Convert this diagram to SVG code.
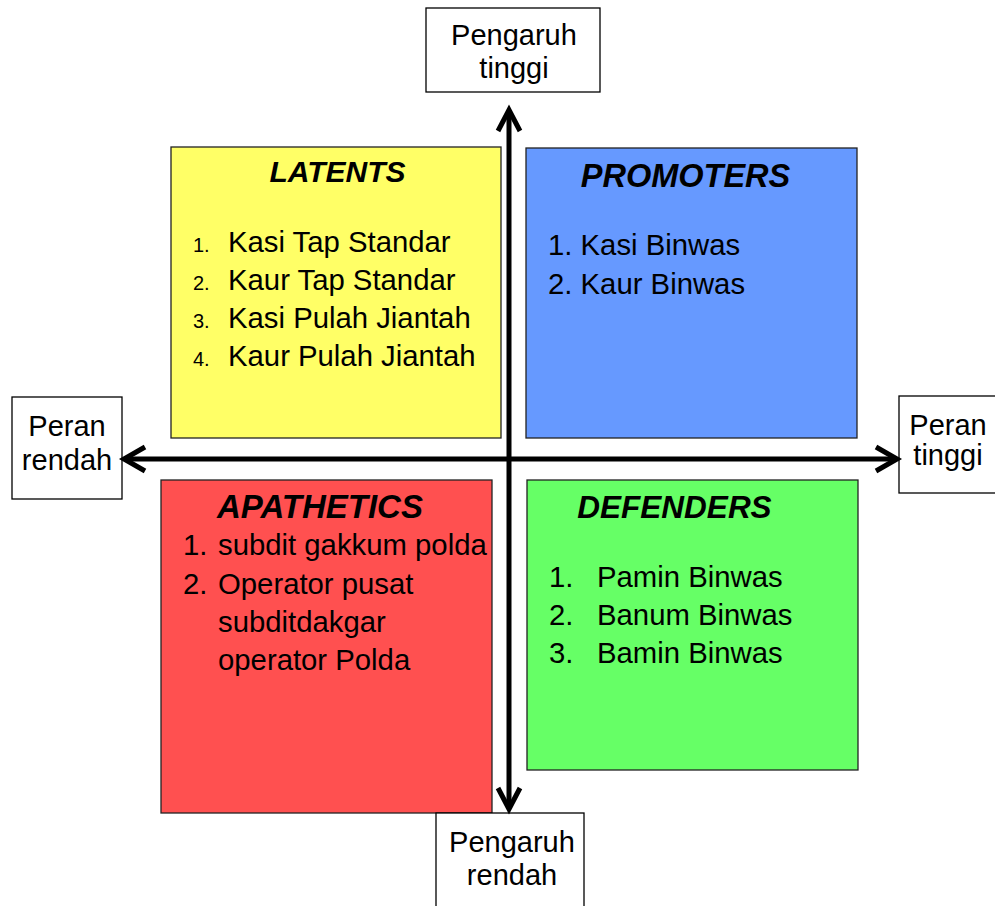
<svg xmlns="http://www.w3.org/2000/svg" width="995" height="906" viewBox="0 0 995 906">
<style>
text{font-family:"Liberation Sans",Arial,sans-serif;fill:#000}
.lbl{font-size:29px;text-anchor:middle}
.lab{fill:#fff;stroke:#000;stroke-width:1.3}
.quad{stroke:#222;stroke-width:1.3}
.ttl{font-weight:bold;font-style:italic;text-anchor:middle}
.it{font-size:29.3px}
.sm{font-size:20px}
.ax{fill:none;stroke:#000;stroke-width:5;stroke-linejoin:miter;stroke-linecap:butt}
</style>
<rect width="995" height="906" fill="#fff"/>
<g id="latents">
<rect class="quad" x="171" y="147" width="330" height="291" fill="#FFFF66"/>
<text class="ttl" x="337.5" y="182" font-size="30">LATENTS</text>
<text class="sm" x="193" y="251.5">1.</text><text class="it" x="228" y="251.5" font-size="29.7">Kasi Tap Standar</text>
<text class="sm" x="193" y="290">2.</text><text class="it" x="228" y="290" font-size="29.7">Kaur Tap Standar</text>
<text class="sm" x="193" y="328">3.</text><text class="it" x="228" y="328" font-size="29.7">Kasi Pulah Jiantah</text>
<text class="sm" x="193" y="366">4.</text><text class="it" x="228" y="366" font-size="29.7">Kaur Pulah Jiantah</text>
</g>
<g id="promoters">
<rect class="quad" x="526" y="148" width="331" height="290" fill="#6699FF"/>
<text class="ttl" x="685.5" y="187" font-size="32.5">PROMOTERS</text>
<text class="it" x="548" y="255">1. Kasi Binwas</text>
<text class="it" x="548" y="294">2. Kaur Binwas</text>
</g>
<g id="apathetics">
<rect class="quad" x="161" y="480" width="331" height="333" fill="#FF5050"/>
<text class="ttl" x="320" y="518" font-size="33">APATHETICS</text>
<text class="it" x="183" y="555">1.</text><text class="it" x="218" y="555">subdit gakkum polda</text>
<text class="it" x="183" y="594">2.</text><text class="it" x="218" y="594">Operator pusat</text>
<text class="it" x="218" y="632">subditdakgar</text>
<text class="it" x="218" y="670">operator Polda</text>
</g>
<g id="defenders">
<rect class="quad" x="527" y="480" width="331" height="290" fill="#66FF66"/>
<text class="ttl" x="674.5" y="518" font-size="31.5">DEFENDERS</text>
<text class="it" x="549" y="587">1.</text><text class="it" x="597" y="587">Pamin Binwas</text>
<text class="it" x="549" y="625">2.</text><text class="it" x="597" y="625">Banum Binwas</text>
<text class="it" x="549" y="663">3.</text><text class="it" x="597" y="663">Bamin Binwas</text>
</g>
<g id="pengaruh-tinggi">
<rect class="lab" x="426" y="8" width="174" height="84"/>
<text class="lbl" x="514" y="45">Pengaruh</text>
<text class="lbl" x="514" y="78">tinggi</text>
</g>
<g id="pengaruh-rendah">
<rect class="lab" x="436" y="813" width="148" height="100"/>
<text class="lbl" x="512" y="852">Pengaruh</text>
<text class="lbl" x="512" y="885">rendah</text>
</g>
<g id="peran-rendah">
<rect class="lab" x="12" y="397" width="110" height="102"/>
<text class="lbl" x="67" y="436">Peran</text>
<text class="lbl" x="67" y="470">rendah</text>
</g>
<g id="peran-tinggi">
<rect class="lab" x="899" y="396" width="100" height="97"/>
<text class="lbl" x="948" y="435">Peran</text>
<text class="lbl" x="948" y="465">tinggi</text>
</g>
<g id="connectors">
<line class="ax" x1="509" y1="112" x2="509" y2="808"/>
<line class="ax" x1="126" y1="459" x2="895" y2="459"/>
<polyline class="ax" points="498,131 509,110 520,131"/>
<polyline class="ax" points="498,788 509,809 520,788"/>
<polyline class="ax" points="145,447 124,459 145,471"/>
<polyline class="ax" points="876,447 897,459 876,471"/>
</g>
</svg>
